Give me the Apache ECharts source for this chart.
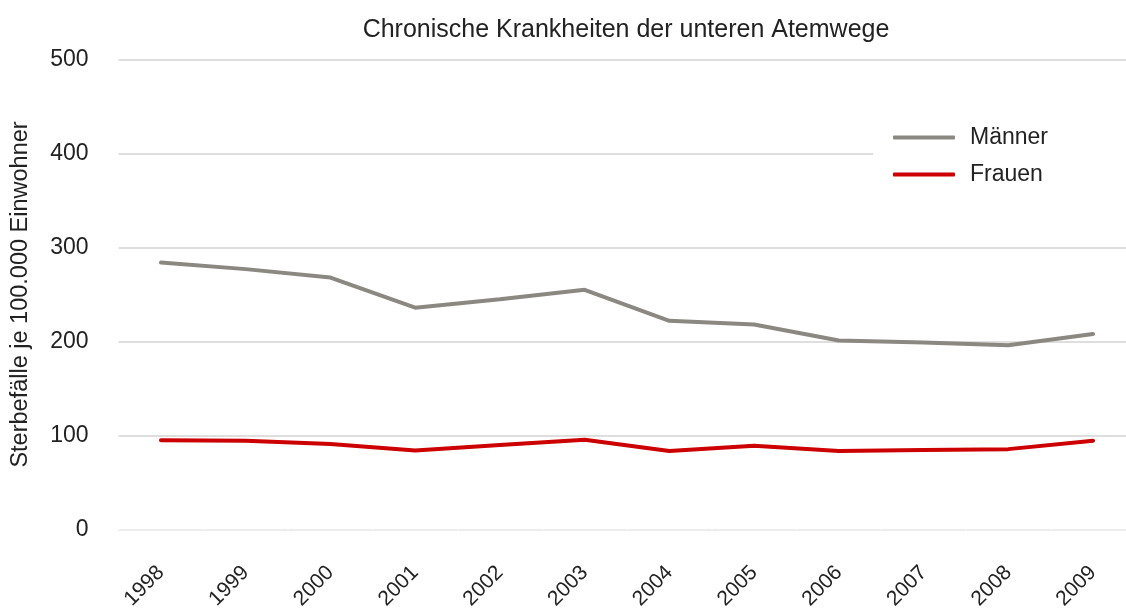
<!DOCTYPE html>
<html>
<head>
<meta charset="utf-8">
<script src="https://cdn.jsdelivr.net/npm/echarts@6/dist/echarts.min.js"></script>
<style>
  html, body { margin: 0; padding: 0; background: #fff; }
  #chart { width: 1126px; height: 608px; }
</style>
</head>
<body>
<div id="chart"></div>
<script>
// Jahre
var years = ['1998', '1999', '2000', '2001', '2002', '2003', '2004', '2005', '2006', '2007', '2008', '2009'];
// Sterbefälle je 100.000 Einwohner
var maenner = [284, 277, 268, 236, 245, 255, 222, 218, 201, 199, 196, 208];
var frauen = [95, 94.5, 91, 84, 90, 95.5, 83.5, 89, 83.5, 84.5, 85.5, 94.5];
var yTicks = [0, 100, 200, 300, 400, 500];

var font = 'Liberation Sans';
var chart = echarts.init(document.getElementById('chart'));
chart.setOption({
  animation: false,
  title: {
    text: 'Chronische Krankheiten der unteren Atemwege',
    left: 621,
    top: 13,
    textAlign: 'center',
    textStyle: { fontFamily: font, fontSize: 25, fontWeight: 'normal', color: '#222' }
  },
  color: ['#8a8880', '#cc0000'],
  legend: {
    data: ['Männer', 'Frauen'],
    orient: 'vertical',
    left: 873,
    top: 118,
    padding: [8, 80, 8, 20],
    backgroundColor: '#fff',
    itemWidth: 62,
    itemHeight: 4,
    itemGap: 14,
    icon: 'roundRect',
    textStyle: { fontFamily: font, fontSize: 23, color: '#222', padding: [0, 0, 0, 10] }
  },
  grid: { left: 118.6, right: -9.4, top: 59.5, bottom: 78.5, outerBoundsMode: 'none' },
  xAxis: {
    type: 'category',
    data: years,
    boundaryGap: true,
    axisLine: { lineStyle: { color: '#ececec', width: 2 } },
    axisTick: { show: true, inside: true, length: 3, lineStyle: { color: '#fff', width: 2 } },
    axisLabel: { rotate: 45, margin: 40, fontFamily: font, fontSize: 21, color: '#222' }
  },
  yAxis: {
    type: 'value',
    min: yTicks[0],
    max: yTicks[yTicks.length - 1],
    interval: 100,
    name: 'Sterbefälle je 100.000 Einwohner',
    nameLocation: 'middle',
    nameGap: 86,
    nameTextStyle: { fontFamily: font, fontSize: 23.5, color: '#222' },
    axisLine: { show: false },
    axisTick: { show: false },
    axisLabel: { margin: 30, fontFamily: font, fontSize: 23, color: '#222' },
    splitLine: { lineStyle: { color: '#dedede', width: 2 } }
  },
  series: [{
    name: 'Männer',
    type: 'line',
    data: maenner,
    symbol: 'none',
    lineStyle: { width: 4, cap: 'round' },
    z: 3
  }, {
    name: 'Frauen',
    type: 'line',
    data: frauen,
    symbol: 'none',
    lineStyle: { width: 4, cap: 'round' },
    z: 3
  }]
});
</script>
</body>
</html>
